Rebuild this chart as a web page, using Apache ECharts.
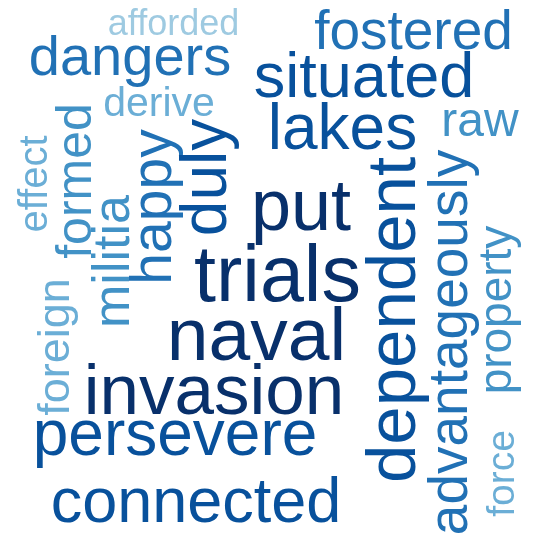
<!DOCTYPE html>
<html>
<head>
<meta charset="utf-8">
<title>word cloud</title>
<script src="https://cdn.jsdelivr.net/npm/echarts@6.0.0/dist/echarts.min.js"></script>
<style>
    html, body { margin: 0; padding: 0; background: #fff; }
    #mainChart { width: 543px; height: 544px; }
</style>
</head>
<body>
<div id="mainChart"></div>
<script>
// words and their weights (weight drives font size and shade)
var words = ['afforded', 'fostered', 'dangers', 'situated', 'derive', 'raw', 'lakes', 'put',
    'trials', 'naval', 'invasion', 'persevere', 'connected', 'effect', 'formed', 'militia',
    'happy', 'duly', 'foreign', 'dependent', 'advantageously', 'property', 'force'];
var weights = [36, 55, 56, 63, 41, 48, 64, 72,
    79, 75, 71, 64, 63, 40, 50, 52,
    57, 64, 45, 69, 55, 46, 39];

// cloud layout: centre of each word and its rotation
var layoutX = [173.5, 413.5, 130, 364, 159, 480, 342.5, 301,
    277.5, 256.5, 214, 175, 196, 36, 77, 114.4,
    154.9, 208.8, 56.3, 396, 451.6, 498.3, 503.4];
var layoutY = [25.2, 33.5, 59.2, 79.4, 104.2, 122.6, 131.4, 210.4,
    279.2, 339.5, 394, 437.8, 504.2, 184, 181, 261.5,
    207, 177.5, 347, 320, 342.5, 310, 473.5];
var layoutRotate = [0, 0, 0, 0, 0, 0, 0, 0,
    0, 0, 0, 0, 0, 90, 90, 90,
    90, 90, 90, 90, 90, 90, 90];

function shadeOf(w) {
    if (w >= 70) return '#08306b';
    if (w >= 60) return '#08519c';
    if (w >= 53) return '#2171b5';
    if (w >= 46) return '#4292c6';
    if (w >= 38) return '#6baed6';
    return '#9ecae1';
}

var cloudData = [];
for (var i = 0; i < words.length; i++) {
    cloudData.push({
        name: words[i],
        value: [layoutX[i], layoutY[i], weights[i]],
        label: {
            fontSize: weights[i],
            color: shadeOf(weights[i]),
            rotate: layoutRotate[i]
        }
    });
}

var myChart = echarts.init(document.getElementById('mainChart'));
var option = {
    animation: false,
    grid: { left: 0, right: 0, top: 0, bottom: 0 },
    xAxis: { type: 'value', min: 0, max: 543, show: false },
    yAxis: { type: 'value', min: 0, max: 544, inverse: true, show: false },
    series: [
        {
            type: 'scatter',
            symbolSize: 1,
            itemStyle: { color: 'rgba(255,255,255,0)', opacity: 1 },
            label: {
                show: true,
                position: 'inside',
                formatter: '{b}',
                fontFamily: 'Liberation Sans',
                fontWeight: 'normal'
            },
            data: cloudData
        }
    ]
};
myChart.setOption(option);
</script>
</body>
</html>
